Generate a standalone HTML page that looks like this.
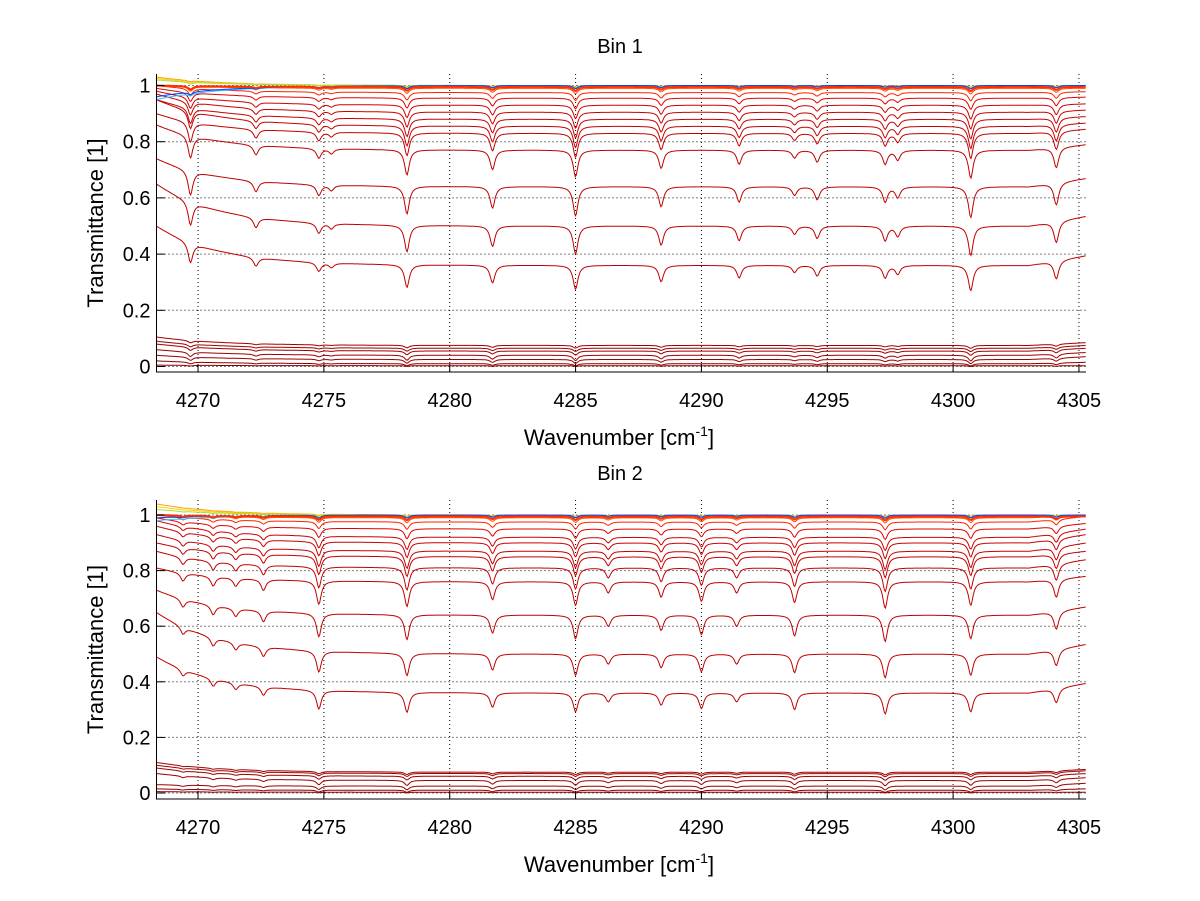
<!DOCTYPE html>
<html><head><meta charset="utf-8"><style>
html,body{margin:0;padding:0;background:#fff;}
svg{display:block;font-family:"Liberation Sans",sans-serif;}
</style></head><body>
<svg id="chart" width="1200" height="901" viewBox="0 0 1200 901" xmlns="http://www.w3.org/2000/svg"></svg>
<script>
// ---- data ----
const xTicks = [4270, 4275, 4280, 4285, 4290, 4295, 4300, 4305];
const yTicks = [0, 0.2, 0.4, 0.6, 0.8, 1];
const yTickLabels = ["0", "0.2", "0.4", "0.6", "0.8", "1"];
const panelTitles = ["Bin 1", "Bin 2"];
// absorption line centers / relative strengths
const bin1Centers = [4269.7, 4272.3, 4274.8, 4275.3, 4278.3, 4281.7, 4285.0, 4288.4, 4291.5, 4293.7, 4294.6, 4297.3, 4297.8, 4300.7, 4304.1];
const bin1Strength = [0.8, 0.35, 0.35, 0.18, 0.9, 0.7, 0.95, 0.65, 0.5, 0.28, 0.42, 0.5, 0.35, 1.0, 0.72];
const bin2Centers = [4269.4, 4270.6, 4271.5, 4272.6, 4274.8, 4278.3, 4281.7, 4285.0, 4286.3, 4288.4, 4290.0, 4291.4, 4293.7, 4297.3, 4300.7, 4304.1];
const bin2Strength = [0.3, 0.35, 0.3, 0.4, 0.85, 0.9, 0.65, 0.85, 0.4, 0.55, 0.7, 0.4, 0.75, 0.95, 0.85, 0.65];
// series: continuum mid level, left-edge level, right-edge rise, absorption depth
const bin1Mid   = [0.003,0.01,0.025,0.04,0.055,0.065,0.075, 0.36,0.50,0.64,0.77,0.83,0.855,0.88,0.905,0.93,0.955,0.975,0.99, 1.0,1.0,1.0,1.0,1.0,0.995];
const bin1Left  = [0.005,0.02,0.04,0.06,0.08,0.09,0.105, 0.50,0.65,0.74,0.86,0.90,0.95,0.95,0.97,0.98,0.99,1.0,1.0, 1.03,1.025,1.02,0.95,0.96,1.0];
const bin1Rise  = [0.0,0.005,0.01,0.01,0.01,0.01,0.01, 0.035,0.035,0.03,0.02,0.015,0.012,0.01,0.008,0.005,0.004,0.003,0.0, 0,0,0,0,0,0];
const bin1Depth = [0.003,0.008,0.015,0.02,0.015,0.012,0.01, 0.09,0.105,0.11,0.10,0.09,0.08,0.07,0.06,0.05,0.04,0.03,0.02, 0.005,0.006,0.008,0.01,0.012,0.015];
const bin2Mid   = [0.003,0.01,0.025,0.045,0.06,0.07,0.075, 0.36,0.50,0.64,0.76,0.81,0.85,0.87,0.90,0.92,0.95,0.975,0.99, 1.0,1.0,1.0,1.0,1.0,0.995];
const bin2Left  = [0.005,0.015,0.03,0.07,0.09,0.1,0.11, 0.49,0.65,0.73,0.81,0.87,0.90,0.93,0.96,0.98,0.99,1.0,1.0, 1.04,1.03,1.02,0.98,0.99,1.0];
const bin2Rise  = [0.0,0.005,0.01,0.01,0.01,0.01,0.01, 0.035,0.035,0.03,0.02,0.03,0.02,0.03,0.03,0.03,0.02,0.02,0.01, 0,0,0,0,0,0];
const bin2Depth = [0.003,0.008,0.015,0.02,0.015,0.012,0.01, 0.08,0.09,0.10,0.10,0.09,0.08,0.07,0.06,0.05,0.04,0.03,0.02, 0.005,0.006,0.008,0.01,0.012,0.015];
const seriesColors = ["#8b0000","#8b0000","#990000","#990000","#990000","#a00000","#a00000",
 "#c00000","#c00000","#c00000","#c00000","#c40000","#c40000","#c80000","#cc0000","#d00000","#e00000","#ff2000","#ff5000",
 "#ffa000","#ffd000","#a0e040","#30c0ff","#0040ff","#ff3000"];

// ---- layout ----
const svg = document.getElementById('chart');
const NS = 'http://www.w3.org/2000/svg';
const X0 = 4268.35, X1 = 4305.28;
const panels = [
  {left:156.5, right:1086, top:74, bottom:372, y0px:366.5, pxPerUnit:281, centers:bin1Centers, str:bin1Strength, mid:bin1Mid, lft:bin1Left, rise:bin1Rise, dep:bin1Depth, titleY:53},
  {left:156.5, right:1086, top:500, bottom:799, y0px:793, pxPerUnit:278, centers:bin2Centers, str:bin2Strength, mid:bin2Mid, lft:bin2Left, rise:bin2Rise, dep:bin2Depth, titleY:480}
];
function mk(tag, attrs, parent){const e=document.createElementNS(NS,tag);for(const k in attrs)e.setAttribute(k,attrs[k]);(parent||svg).appendChild(e);return e;}

panels.forEach((p, pi) => {
  const xs = v => p.left + (v - X0) / (X1 - X0) * (p.right - p.left);
  const ys = v => p.y0px - v * p.pxPerUnit;
  const g = mk('g', {});
  
  
  // grid
  xTicks.forEach(t => { const l = mk('line',{x1:xs(t),x2:xs(t),y1:p.top,y2:p.bottom,stroke:'#000','stroke-width':1,'stroke-dasharray':'1,3'},g);
      });
  yTicks.forEach(t => { const l = mk('line',{x1:p.left,x2:p.right,y1:ys(t),y2:ys(t),stroke:'#000','stroke-width':1,'stroke-dasharray':'1,3'},g);
      });
  // series
  const sg = mk('g', {}, g);
   
  for (let s = 0; s < p.mid.length; s++) {
    let pts = [];
    for (let x = X0; x <= X1 + 1e-9; x += 0.04) {
      let v = p.mid[s] + (p.lft[s] - p.mid[s]) * Math.exp(-(x - X0) / 2.5) + p.rise[s] * Math.max(0, (x - 4303) / 2.3);
      for (let k = 0; k < p.centers.length; k++) {
        const d = Math.abs(x - p.centers[k]) / 0.13;
        v -= p.dep[s] * p.str[k] / (1 + d * d * 1.3);
      }
      pts.push(xs(x).toFixed(1) + ',' + ys(v).toFixed(1));
    }
    const pl = mk('polyline', {points: pts.join(' '), fill:'none', stroke: seriesColors[s], 'stroke-width': s===p.mid.length-1 ? 2 : 1}, sg);
    
    
  }
  // axes lines
  const ax = mk('path',{d:`M${p.left},${p.top} V${p.bottom} H${p.right}`,stroke:'#000','stroke-width':1,fill:'none'},g);
   
  // ticks & labels
  xTicks.forEach(t => {
    mk('line',{x1:xs(t),x2:xs(t),y1:p.bottom,y2:p.bottom-8,stroke:'#000'},g);
    const tx = mk('text',{x:xs(t),y:p.bottom+35,'text-anchor':'middle','font-size':20,fill:'#000'},g);
    tx.textContent = t;
     
  });
  yTicks.forEach((t,i) => {
    mk('line',{x1:p.left,x2:p.left+8,y1:ys(t),y2:ys(t),stroke:'#000'},g);
    const tx = mk('text',{x:p.left-6,y:ys(t)+7,'text-anchor':'end','font-size':20,fill:'#000'},g);
    tx.textContent = yTickLabels[i];
     
  });
  const title = mk('text',{x:620,y:p.titleY,'text-anchor':'middle','font-size':20,fill:'#000'},g);
  title.textContent = panelTitles[pi];
   
  const xl = mk('text',{x:619,y:p.bottom+73,'text-anchor':'middle','font-size':22,fill:'#000'},g);
  xl.innerHTML = 'Wavenumber [cm<tspan dy="-9" font-size="14">-1</tspan><tspan dy="9">]</tspan>';
   
  const cy = (p.top + p.bottom)/2;
  const yl = mk('text',{x:0,y:0,'text-anchor':'middle','font-size':22,fill:'#000',transform:`translate(103,${cy}) rotate(-90)`},g);
  yl.textContent = 'Transmittance [1]';
   
});
</script>
</body></html>
